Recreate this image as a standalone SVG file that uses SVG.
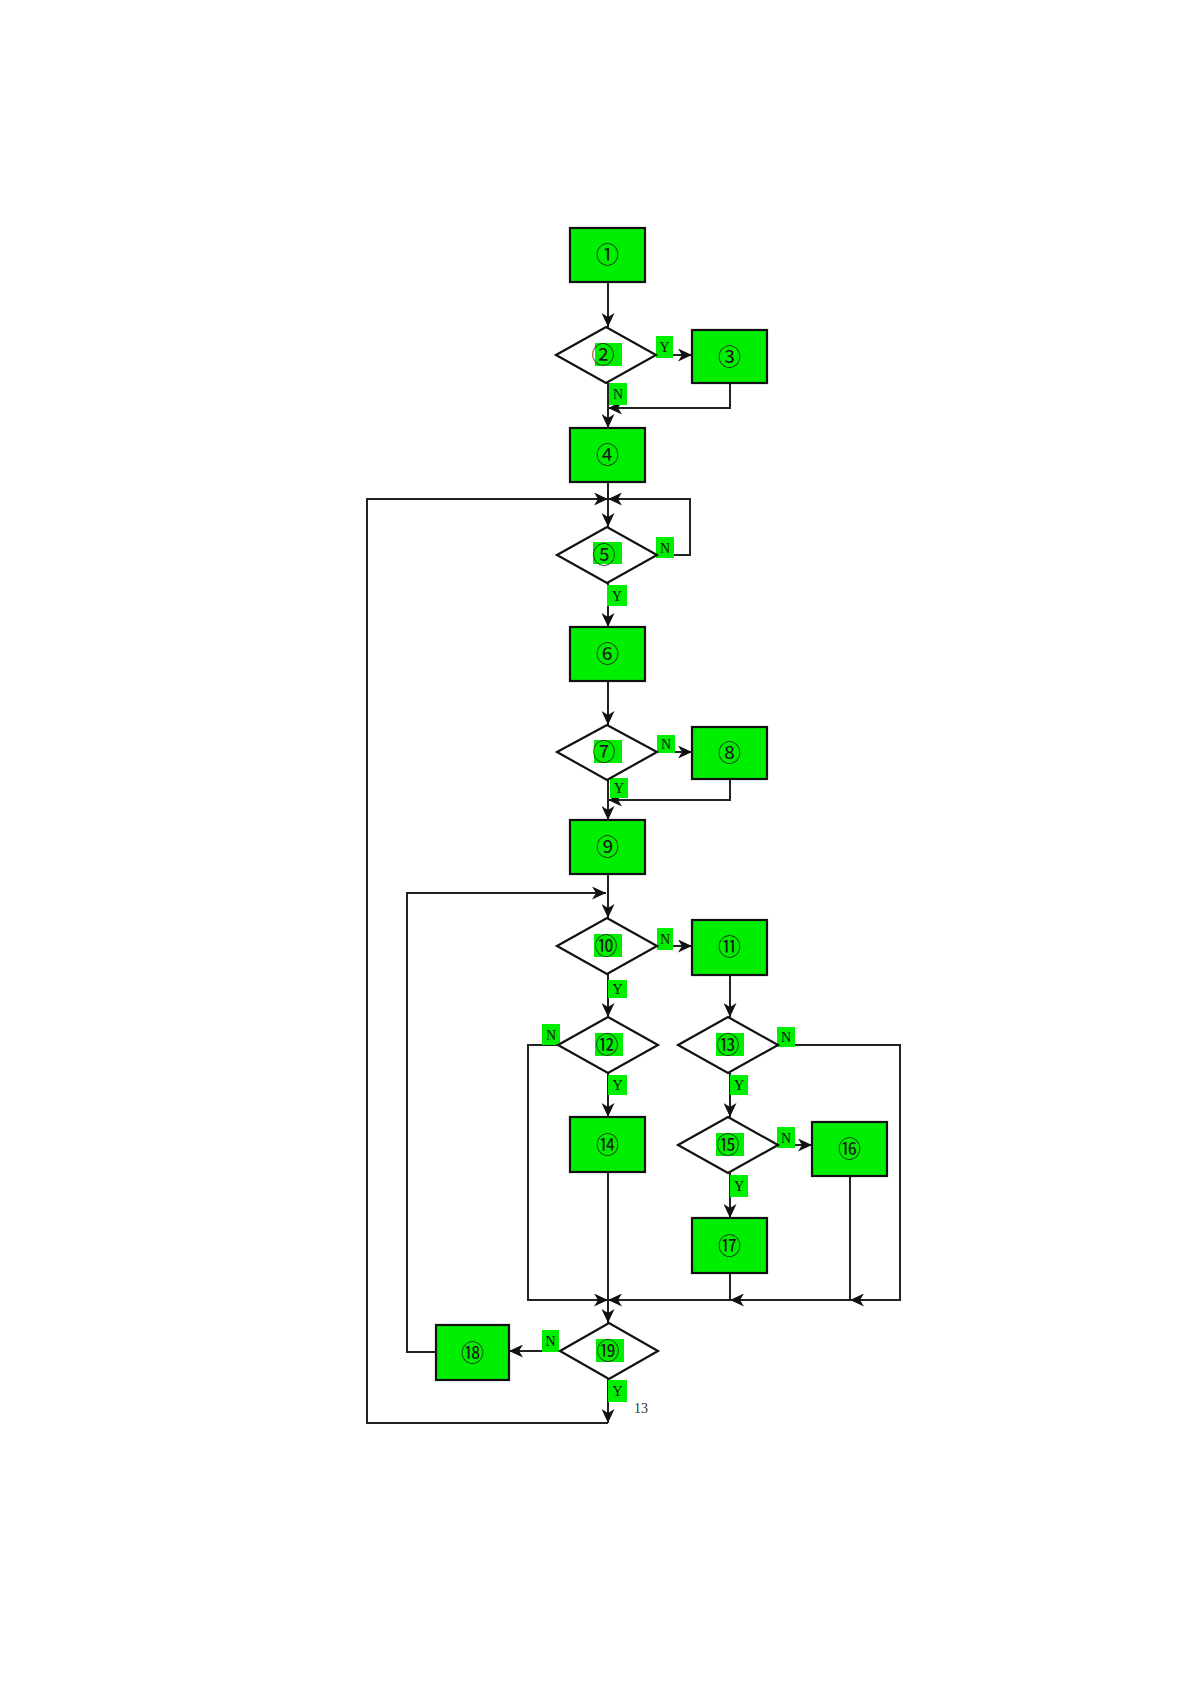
<svg xmlns="http://www.w3.org/2000/svg" width="1190" height="1684" viewBox="0 0 1190 1684">
<style>
.box{fill:#00ee00;stroke:#111;stroke-width:2.2}
.dia{fill:#fff;stroke:#111;stroke-width:2.2}
.hl{fill:#00ee00}
.num{font-family:"Noto Sans CJK SC","DejaVu Sans",sans-serif;font-size:23px;fill:#1a1a1a;text-anchor:middle}
.lab{font-family:"Liberation Serif",serif;font-size:14px;fill:#111;text-anchor:middle}
.c{fill:none;stroke:#222;stroke-width:2}
.pg{font-family:"Liberation Serif",serif;font-size:14px;fill:#333}
</style>
<defs>
<marker id="ar" markerUnits="userSpaceOnUse" markerWidth="15" markerHeight="13" refX="14" refY="6.5" orient="auto">
<path d="M0,0 L14,6.5 L0,13 L4,6.5 z" fill="#111"/>
</marker>
</defs>
<rect width="1190" height="1684" fill="#fff"/>

<g id="connectors">
<path class="c" d="M608,282 V327" marker-end="url(#ar)"/>
<path class="c" d="M656,355 H692" marker-end="url(#ar)"/>
<path class="c" d="M730,383 V408 H608" marker-end="url(#ar)"/>
<path class="c" d="M608,383 V428" marker-end="url(#ar)"/>
<path class="c" d="M608,482 V527" marker-end="url(#ar)"/>
<path class="c" d="M657,555 H690 V499 H608" marker-end="url(#ar)"/>
<path class="c" d="M608,1423 H367 V499 H608" marker-end="url(#ar)"/>
<path class="c" d="M608,583 V627" marker-end="url(#ar)"/>
<path class="c" d="M608,681 V725" marker-end="url(#ar)"/>
<path class="c" d="M657,752 H692" marker-end="url(#ar)"/>
<path class="c" d="M730,779 V800 H608" marker-end="url(#ar)"/>
<path class="c" d="M608,780 V820" marker-end="url(#ar)"/>
<path class="c" d="M608,874 V918" marker-end="url(#ar)"/>
<path class="c" d="M436,1352 H407 V893 H606" marker-end="url(#ar)"/>
<path class="c" d="M656,946 H692" marker-end="url(#ar)"/>
<path class="c" d="M608,974 V1017" marker-end="url(#ar)"/>
<path class="c" d="M730,975 V1017" marker-end="url(#ar)"/>
<path class="c" d="M558,1045 H528 V1300 H608" marker-end="url(#ar)"/>
<path class="c" d="M608,1073 V1117" marker-end="url(#ar)"/>
<path class="c" d="M777,1045 H900 V1300 H850" marker-end="url(#ar)"/>
<path class="c" d="M850,1176 V1300 H730" marker-end="url(#ar)"/>
<path class="c" d="M730,1273 V1300 H608" marker-end="url(#ar)"/>
<path class="c" d="M608,1172 V1323" marker-end="url(#ar)"/>
<path class="c" d="M730,1073 V1117" marker-end="url(#ar)"/>
<path class="c" d="M777,1145 H812" marker-end="url(#ar)"/>
<path class="c" d="M730,1173 V1218" marker-end="url(#ar)"/>
<path class="c" d="M560,1351 H509" marker-end="url(#ar)"/>
<path class="c" d="M608,1379 V1423" marker-end="url(#ar)"/>
</g>

<g id="edge-labels">
<rect class="hl" x="656" y="336" width="17" height="22"/><text class="lab" x="664.5" y="352">Y</text>
<rect class="hl" x="609" y="383" width="18" height="22"/><text class="lab" x="618" y="399">N</text>
<rect class="hl" x="656" y="537" width="18" height="21"/><text class="lab" x="665" y="553">N</text>
<rect class="hl" x="607" y="585" width="20" height="21"/><text class="lab" x="617" y="601">Y</text>
<rect class="hl" x="657" y="735" width="18" height="18"/><text class="lab" x="666" y="749">N</text>
<rect class="hl" x="610" y="778" width="18" height="20"/><text class="lab" x="619" y="793">Y</text>
<rect class="hl" x="657" y="928" width="16" height="22"/><text class="lab" x="665" y="944">N</text>
<rect class="hl" x="608" y="980" width="19" height="18"/><text class="lab" x="617.5" y="994">Y</text>
<rect class="hl" x="542" y="1024" width="18" height="21"/><text class="lab" x="551" y="1040">N</text>
<rect class="hl" x="608" y="1075" width="19" height="20"/><text class="lab" x="617.5" y="1090">Y</text>
<rect class="hl" x="777" y="1027" width="18" height="20"/><text class="lab" x="786" y="1042">N</text>
<rect class="hl" x="730" y="1075" width="18" height="20"/><text class="lab" x="739" y="1090">Y</text>
<rect class="hl" x="777" y="1127" width="18" height="21"/><text class="lab" x="786" y="1143">N</text>
<rect class="hl" x="730" y="1175" width="18" height="22"/><text class="lab" x="739" y="1191">Y</text>
<rect class="hl" x="542" y="1330" width="17" height="22"/><text class="lab" x="550.5" y="1346">N</text>
<rect class="hl" x="608" y="1380" width="19" height="22"/><text class="lab" x="617.5" y="1396">Y</text>
</g>

<g id="n1"><rect class="box" x="570" y="228" width="75" height="54"/><text class="num" x="607.5" y="263">①</text></g>
<g id="n2"><polygon class="dia" points="556,355 606,327 656,355 606,383"/><rect class="hl" x="595" y="343" width="27" height="23"/><text class="num" x="603" y="363">②</text></g>
<g id="n3"><rect class="box" x="692" y="330" width="75" height="53"/><text class="num" x="729.5" y="365">③</text></g>
<g id="n4"><rect class="box" x="570" y="428" width="75" height="54"/><text class="num" x="607.5" y="463">④</text></g>
<g id="n5"><polygon class="dia" points="557,555 607,527 657,555 607,583"/><rect class="hl" x="593" y="542" width="29" height="22"/><text class="num" x="604" y="563">⑤</text></g>
<g id="n6"><rect class="box" x="570" y="627" width="75" height="54"/><text class="num" x="607.5" y="662">⑥</text></g>
<g id="n7"><polygon class="dia" points="557,752 607,725 657,752 607,780"/><rect class="hl" x="594" y="740" width="28" height="23"/><text class="num" x="604" y="760">⑦</text></g>
<g id="n8"><rect class="box" x="692" y="727" width="75" height="52"/><text class="num" x="729.5" y="761">⑧</text></g>
<g id="n9"><rect class="box" x="570" y="820" width="75" height="54"/><text class="num" x="607.5" y="855">⑨</text></g>
<g id="n10"><polygon class="dia" points="557,946 607,918 657,946 607,974"/><rect class="hl" x="594" y="934" width="28" height="23"/><text class="num" x="606" y="954">⑩</text></g>
<g id="n11"><rect class="box" x="692" y="920" width="75" height="55"/><text class="num" x="729.5" y="955">⑪</text></g>
<g id="n12"><polygon class="dia" points="558,1045 608,1017 658,1045 608,1073"/><rect class="hl" x="595" y="1033" width="28" height="23"/><text class="num" x="607" y="1053">⑫</text></g>
<g id="n13"><polygon class="dia" points="678,1045 728,1017 778,1045 728,1073"/><rect class="hl" x="716" y="1033" width="28" height="23"/><text class="num" x="728" y="1053">⑬</text></g>
<g id="n14"><rect class="box" x="570" y="1117" width="75" height="55"/><text class="num" x="607.5" y="1153">⑭</text></g>
<g id="n15"><polygon class="dia" points="678,1145 728,1117 778,1145 728,1173"/><rect class="hl" x="716" y="1133" width="28" height="23"/><text class="num" x="728" y="1153">⑮</text></g>
<g id="n16"><rect class="box" x="812" y="1122" width="75" height="54"/><text class="num" x="849.5" y="1157">⑯</text></g>
<g id="n17"><rect class="box" x="692" y="1218" width="75" height="55"/><text class="num" x="729.5" y="1254">⑰</text></g>
<g id="n18"><rect class="box" x="436" y="1325" width="73" height="55"/><text class="num" x="472.5" y="1361">⑱</text></g>
<g id="n19"><polygon class="dia" points="560,1351 609,1323 658,1351 609,1379"/><rect class="hl" x="596" y="1339" width="28" height="23"/><text class="num" x="608" y="1359">⑲</text></g>

<text class="pg" x="634" y="1413">13</text>
</svg>
